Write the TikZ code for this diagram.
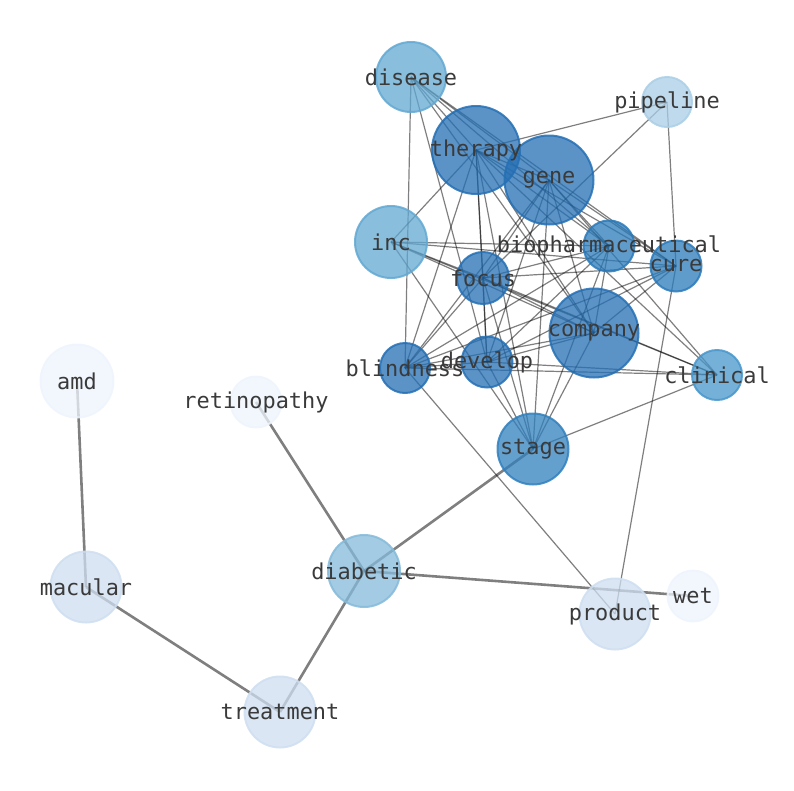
\documentclass[tikz,border=0pt]{standalone}
\usepackage{fontspec}
\setmonofont{DejaVu Sans Mono}
\definecolor{cDark}{RGB}{36,111,180}
\definecolor{cStage}{RGB}{48,128,190}
\definecolor{cMid}{RGB}{42,122,186}
\definecolor{cClin}{RGB}{71,150,203}
\definecolor{cLight}{RGB}{98,168,210}
\definecolor{cDiab}{RGB}{132,186,218}
\definecolor{cPipe}{RGB}{170,206,230}
\definecolor{cPale}{RGB}{206,222,240}
\definecolor{cVpale}{RGB}{238,244,253}
\definecolor{labelgray}{RGB}{58,58,58}
\pgfdeclarelayer{bg}
\pgfdeclarelayer{fg}
\pgfsetlayers{bg,main,fg}
\begin{document}
\begin{tikzpicture}[x=1pt,y=-1pt,
  edge/.style={draw=black, draw opacity=0.5, line width=1.2pt},
  heavy/.style={draw=black, draw opacity=0.5, line width=2.6pt},
  bubble/.style={circle, inner sep=0pt, fill opacity=0.75, draw opacity=0.85, line width=2pt},
  lbl/.style={font=\ttfamily\fontsize{21.9}{22}\selectfont, text=labelgray, inner sep=0pt}]
\useasboundingbox (0,0) rectangle (794,790);
% nodes
\foreach \n/\x/\y/\r/\c in {
  disease/411/77/36/cLight,
  pipeline/667/102/26/cPipe,
  therapy/476/150/45/cDark,
  gene/549/180/45.5/cDark,
  inc/391/242/37/cLight,
  biopharm/609/246/26.5/cMid,
  cure/676/266/26.5/cMid,
  focus/483/278/27/cDark,
  company/594/333/45.5/cDark,
  blindness/405/368/26/cDark,
  develop/487/362/26.5/cDark,
  clinical/717/375/26/cClin,
  stage/533/449/36.5/cStage,
  amd/77/381/37.5/cVpale,
  retinopathy/256/402/26.5/cVpale,
  diabetic/364/571/37/cDiab,
  macular/86/587/36.5/cPale,
  product/615/614/36.5/cPale,
  wet/693/596/26.5/cVpale,
  treatment/280/712/36.5/cPale}
{
  \node[bubble, fill=\c, draw=\c, minimum size={2*\r-2}] (\n) at (\x,\y) {};
}
% edges
\begin{pgfonlayer}{bg}
\foreach \a/\b in {
  disease/therapy, disease/gene, disease/biopharm, disease/cure, disease/company, disease/develop, disease/blindness,
  pipeline/therapy, pipeline/focus, pipeline/cure,
  therapy/gene, therapy/inc, therapy/blindness, therapy/focus, therapy/develop, therapy/stage, therapy/biopharm, therapy/cure, therapy/company, therapy/clinical,
  gene/focus, gene/blindness, gene/develop, gene/stage, gene/company, gene/biopharm, gene/cure, gene/clinical,
  inc/biopharm, inc/cure, inc/focus, inc/company, inc/clinical, inc/stage,
  biopharm/focus, biopharm/blindness, biopharm/develop, biopharm/stage, biopharm/company,
  cure/focus, cure/blindness, cure/develop, cure/company, cure/product,
  focus/blindness, focus/develop, focus/company, focus/clinical, focus/stage,
  company/blindness, company/develop, company/stage,
  blindness/develop, blindness/clinical, blindness/product,
  develop/stage, develop/clinical,
  stage/clinical}
{
  \draw[edge] (\a.center) -- (\b.center);
}
\foreach \a/\b in {
  stage/diabetic, diabetic/retinopathy, diabetic/wet, diabetic/treatment,
  amd/macular, macular/treatment}
{
  \draw[heavy] (\a.center) -- (\b.center);
}
\end{pgfonlayer}
% labels
\begin{pgfonlayer}{fg}
\foreach \n/\t in {
  disease/disease, pipeline/pipeline, therapy/therapy, gene/gene, inc/inc,
  biopharm/biopharmaceutical, cure/cure, focus/focus, company/company,
  blindness/blindness, develop/develop, clinical/clinical, stage/stage,
  amd/amd, retinopathy/retinopathy, diabetic/diabetic, macular/macular,
  product/product, wet/wet, treatment/treatment}
{
  \node[lbl] (\n-l) at (\n.center) {\t};
}
\end{pgfonlayer}
\end{tikzpicture}
\end{document}
